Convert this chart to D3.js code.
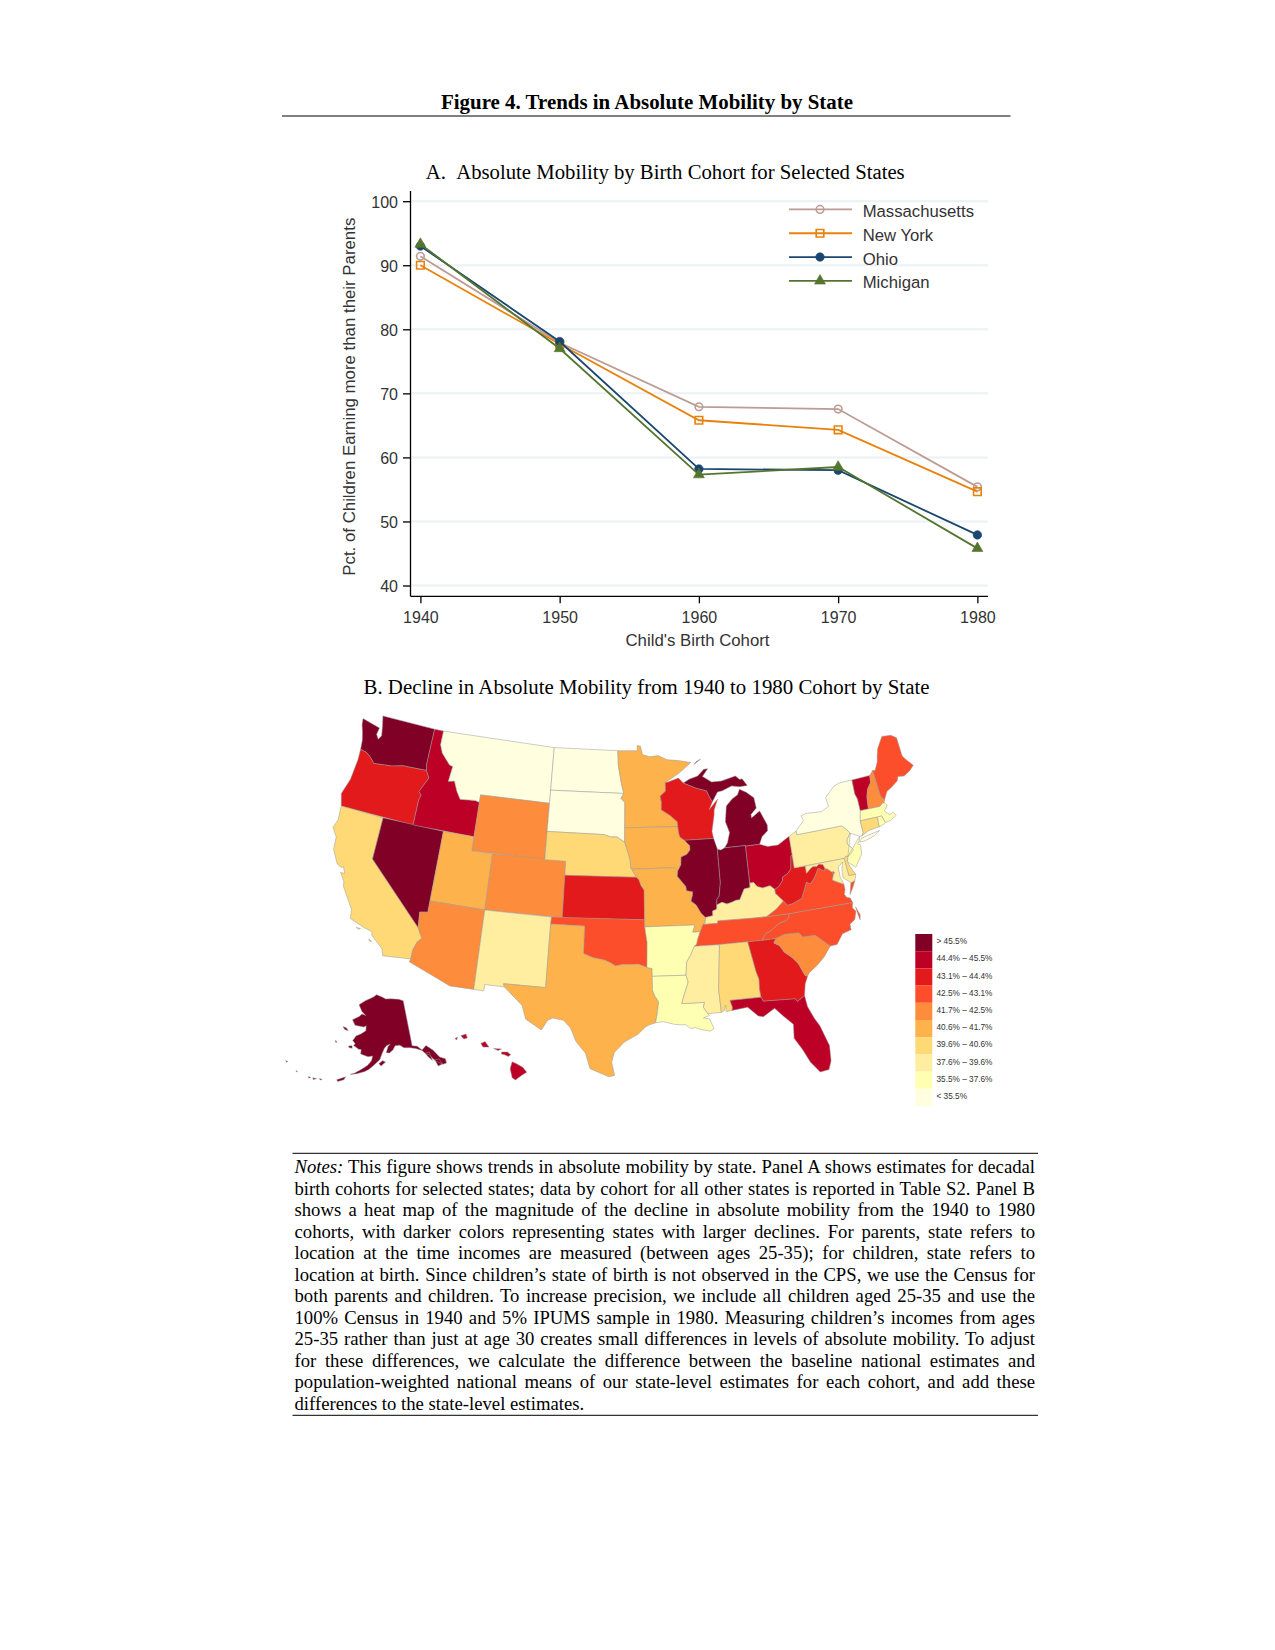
<!DOCTYPE html>
<html><head><meta charset="utf-8">
<script src="https://d3js.org/d3.v7.min.js"></script>
<style>html,body{margin:0;padding:0;background:#fff}svg{display:block}</style>
</head><body><svg id="c" width="1275" height="1650"></svg>
<script>
// ---------- Panel A data ----------
const cohorts = [1940,1950,1960,1970,1980];
const seriesNames = ["Massachusetts","New York","Ohio","Michigan"];
const massachusetts = [91.4,77.9,67.9,67.55,55.4];
const newYork = [90.0,77.7,65.8,64.3,54.65];
const ohio = [93.0,78.1,58.2,58.0,47.9];
const michigan = [93.3,77.0,57.3,58.5,45.8];
const yTicks = [40,50,60,70,80,90,100];

// ---------- Panel B data ----------
const legendLabels = ["> 45.5%","44.4% – 45.5%","43.1% – 44.4%","42.5% – 43.1%","41.7% – 42.5%","40.6% – 41.7%","39.6% – 40.6%","37.6% – 39.6%","35.5% – 37.6%","< 35.5%"];
const legendThresholds = [35.5,37.6,39.6,40.6,41.7,42.5,43.1,44.4,45.5];
const legendColors = ["#FFFFE0","#FFFFB2","#FFEDA0","#FED976","#FEB24C","#FD8D3C","#FC4E2A","#E31A1C","#BD0026","#800026"];
const stateCodes = ["WA","OR","CA","NV","ID","MT","WY","UT","AZ","CO","NM","ND","SD","NE","KS","OK","TX","MN","IA","MO","AR","LA","WI","IL","MI","IN","OH","KY","TN","MS","AL","GA","FL","SC","NC","VA","WV","PA","NY","VT","NH","ME","MA","CT","RI","NJ","DE","MD","DC","AK","HI"];
const stateDecline = [46,44,40,46,45,35,42,41,42,42,38.5,35,35,40,44,42.8,41,41,41,41,36.5,36.5,44,46,46,46,45,38.5,42.8,38.5,40,44,45,42,42.8,42.8,44,38.5,35,45,42,42.8,36.5,40,36.5,36.5,40,38.5,42.8,46,45];

// Shared state borders, as "lon,lat" (hand-estimated geography)
const rev = s => s.trim().split(/\s+/).reverse().join(" ");
const MN_WI="-92.29,46.66 -92.29,46.07 -92.87,45.7 -92.75,45.3 -92.8,44.75 -91.9,44.3 -91.25,43.85 -91.22,43.5";
const IA_WI="-91.22,43.5 -91.15,43 -91.06,42.75 -90.64,42.51";
const IA_IL="-90.64,42.51 -90.15,42.1 -90.16,41.8 -90.5,41.5 -91.05,41.35 -91.1,40.8 -91.42,40.38";
const MO_IL="-91.42,40.38 -91.5,40 -90.75,39.25 -90.7,38.95 -90.15,38.85 -90.18,38.63 -90.35,38.2 -89.9,37.9 -89.5,37.3 -89.13,36.98";
const MO_KY="-89.13,36.98 -89.2,36.6 -89.42,36.5";
const MO_TN="-89.42,36.5 -89.7,36";
const AR_TN="-89.7,36 -89.95,35.5 -90.08,35.13 -90.3,35";
const AR_MS="-90.3,35 -90.6,34.5 -91.05,33.9 -91.15,33";
const LA_MS="-91.15,33 -91,32.5 -91.4,31.6 -91.63,31 -89.73,31 -89.85,30.67 -89.53,30.18";
const IL_KY="-89.13,36.98 -88.47,37.07 -88.45,37.4 -88.07,37.5 -88.03,37.8";
const IL_IN="-88.03,37.8 -87.98,38.2 -87.75,38.4 -87.53,39.35 -87.53,41.71";
const IN_KY="-88.03,37.8 -87.55,37.95 -87.1,37.8 -86.6,37.9 -86.25,38 -85.9,38 -85.7,38.3 -85.4,38.73 -84.85,38.78 -84.82,39.1";
const OH_KY="-84.82,39.1 -84.45,39.1 -84.2,38.8 -83.7,38.65 -83,38.73 -82.6,38.42";
const OH_WV="-82.6,38.42 -82.2,38.6 -81.75,39 -81.75,39.2 -81.2,39.4 -80.85,39.7 -80.65,40.6 -80.52,40.64";
const KY_WV="-82.6,38.42 -82.6,38.15 -81.97,37.54";
const KY_VA="-81.97,37.54 -82.7,37.05 -83.68,36.6";
const KY_TN="-83.68,36.6 -85,36.62 -88.07,36.67 -88.07,36.5 -89.42,36.5";
const TN_VA="-83.68,36.6 -81.68,36.59";
const NC_VA="-81.68,36.59 -75.87,36.55";
const TN_NC="-81.68,36.59 -81.7,36.33 -82.03,36.12 -82.6,36.03 -83.1,35.77 -83.5,35.57 -84,35.4 -84.32,34.99";
const VA_WV="-81.97,37.54 -81.68,37.2 -81.2,37.25 -80.3,37.52 -80,38 -79.65,38.58 -79.3,38.42 -78.87,38.77 -78.35,39.4 -77.83,39.14 -77.72,39.32";
const MD_WV="-77.72,39.32 -77.83,39.6 -78.2,39.68 -78.45,39.55 -78.77,39.6 -79.05,39.48 -79.49,39.2 -79.48,39.72";
const MD_VA="-77.72,39.32 -77.46,39.2 -77.12,38.93 -77.04,38.79 -77.25,38.4 -76.95,38.25 -76.3,37.95";
const SAVANNAH="-83.11,35 -83.35,34.7 -82.9,34.47 -82.55,33.95 -81.95,33.5 -81.5,33 -81.1,32.1 -80.9,32.03";
const SC_NC="-83.11,35 -82.3,35.2 -81.05,35.15 -80.78,34.82 -79.68,34.8 -78.55,33.86";
const RED="-94.48,33.64 -95.2,33.87 -96,33.85 -96.6,33.85 -97.2,33.75 -97.6,33.95 -98.1,34.13 -99.2,34.3 -100,34.56";
const SABINE="-94.04,33 -94.04,32 -93.85,31.6 -93.55,31.2 -93.7,30.3 -93.85,29.7";
const WI_MI="-90.42,46.57 -89.1,46.14 -88.1,45.9 -87.8,45.35 -87.6,45.1";
const MN_W="-97.23,49 -97.15,47.9 -96.8,46.6 -96.56,45.94";
const SD_MN="-96.56,45.94 -96.85,45.6 -96.45,45.3 -96.45,43.5";
const NE_SD="-104.05,43 -98.5,43 -97.85,42.85 -97.2,42.85 -96.7,42.6 -96.45,42.49";
const ID_MT="-116.05,49 -116.05,48 -115.7,47.45 -114.7,46.7 -114.35,46.65 -114.5,45.55 -113.9,45.65 -113.45,44.95 -113,44.45 -111.5,44.55 -111.05,44.47";
const OR_ID="-117.03,42 -117.03,43.8 -116.9,44.2 -117.2,44.4 -116.5,45.5 -116.92,45.99";
const WA_OR="-116.92,45.99 -119,45.93 -119.3,45.93 -120.5,45.7 -121.2,45.65 -122.3,45.55 -122.8,45.9 -123.3,46.15 -124,46.25";
const COLO_R="-114.63,35 -114.13,34.3 -114.45,34 -114.7,33.4 -114.72,32.72";
const NJ_PA="-74.7,41.36 -75.13,40.97 -75.2,40.65 -74.75,40.2 -75.13,39.9 -75.41,39.8";
const NY_PA="-79.76,42.27 -79.76,42 -75.35,42 -75.05,41.75 -74.7,41.36";
const NH_VT="-71.5,45.01 -71.6,44.5 -72.05,44.1 -72.3,43.6 -72.46,42.73";

const stateRings = [
 [`-124.7,48.4 -123.1,48.15 -122.75,48.1 -122.85,47.6 -122.55,47.3 -122.3,47.6 -122.5,48.3 -122.75,49 -117.03,49 -117.04,46.42 ${WA_OR} -124.1,46.9 -124.35,47.5 -124.6,47.95`],
 [`${rev(WA_OR)} ${rev(OR_ID)} -124.2,42 -124.55,42.85 -124.1,44 -123.95,45.5`],
 [`-124.2,42 -120,42 -120,39 ${COLO_R} -117.12,32.53 -117.3,33 -118.4,33.75 -118.5,34.03 -119.2,34.15 -120.6,34.55 -120.65,35.15 -121.9,36.6 -122,36.95 -122.5,37.5 -122.1,37.5 -122.4,37.95 -122.55,37.85 -123,38 -123.7,38.9 -123.8,39.8 -124.35,40.4 -124.1,41`,
  `-119.9,34.05 -119.5,34.03 -119.7,33.95`,`-118.6,33.45 -118.3,33.35 -118.45,33.3`],
 [`-120,42 -114.04,42 -114.04,36.2 -114.75,36.1 -114.63,35 -120,39`],
 [`-117.03,49 ${ID_MT} -111.05,42 ${OR_ID} -117.04,46.42`],
 [`${ID_MT} -111.05,45 -104.05,45 -104.05,49`],
 [`-111.05,45 -104.05,45 -104.05,41 -111.05,41`],
 [`-114.04,42 -111.05,42 -111.05,41 -109.05,41 -109.05,37 -114.05,37`],
 [`-114.05,37 -109.05,37 -109.05,31.33 -111.07,31.33 -114.8,32.5 ${rev(COLO_R)} -114.75,36.1 -114.04,36.2`],
 [`-109.05,41 -102.05,41 -102.04,37 -109.05,37`],
 [`-109.05,37 -103,37 -103.04,36.5 -103.06,32 -106.62,32 -106.53,31.78 -108.2,31.78 -108.2,31.33 -109.05,31.33`],
 [`-104.05,49 ${MN_W} -104.05,45.94`],
 [`-104.05,45.94 ${SD_MN} -96.45,42.49 ${rev(NE_SD)}`],
 [`${NE_SD} -96.1,41.7 -95.92,41.2 -95.85,40.65 -95.77,40.58 -95.31,40 -102.05,40 -102.05,41 -104.05,41`],
 [`-102.05,40 -95.31,40 -95.1,39.85 -94.9,39.4 -94.62,39.1 -94.62,37 -102.04,37`],
 [`-103,37 -94.62,37 -94.62,36.5 -94.43,35.4 ${RED} -100,36.5 -103.04,36.5`],
 [`-106.62,32 -103.06,32 -103.04,36.5 -100,36.5 ${rev(RED)} -94.04,33.55 ${SABINE} -94.4,29.55 -94.7,29.4 -95.3,28.9 -96.4,28.35 -97.2,27.6 -97.4,26.9 -97.15,25.96 -97.6,25.85 -99.1,26.4 -99.5,27.5 -100.3,28.3 -100.8,29.25 -101.4,29.77 -102.3,29.88 -102.7,29.7 -103.15,28.98 -104.5,29.65 -104.9,30.6 -106,31.4 -106.53,31.78`],
 [`-97.23,49 -95.15,49 -95.15,49.38 -94.8,49.33 -94.6,48.72 -93.8,48.55 -92.95,48.62 -92,48.3 -90.8,48.2 -89.5,48 -90.8,47.3 -92.1,46.75 ${MN_WI} -96.45,43.5 ${rev(SD_MN)} ${rev(MN_W)}`],
 [`-96.45,43.5 -91.22,43.5 ${IA_WI} ${IA_IL} -91.73,40.61 -95.77,40.58 -95.85,40.65 -95.92,41.2 -96.1,41.7 -96.45,42.49`],
 [`-95.77,40.58 -91.73,40.61 ${MO_IL} ${MO_KY} ${MO_TN} -90.37,36 -90.15,36.5 -94.62,36.5 -94.62,39.1 -94.9,39.4 -95.1,39.85 -95.31,40`],
 [`-94.62,36.5 -90.15,36.5 -90.37,36 ${AR_TN} ${AR_MS} -94.04,33 -94.04,33.55 -94.48,33.64 -94.43,35.4`],
 [`${SABINE} -93.2,29.77 -92.3,29.55 -91.8,29.5 -91.4,29.5 -91,29.2 -90.6,29.25 -90.2,29.1 -89.4,28.93 -89.1,29.1 -89.4,29.8 -89.9,29.9 -89.4,30.05 ${rev(LA_MS)}`],
 [`-92.29,46.66 -92,46.7 -90.9,46.95 -90.42,46.57 ${WI_MI} -88,44.55 -87.05,45.25 -87.5,44.5 -87.55,44.15 -87.9,43 -87.8,42.49 -90.64,42.51 ${rev(IA_WI)} ${rev(MN_WI)}`],
 [`-90.64,42.51 -87.8,42.49 -87.52,41.71 ${rev(IL_IN)} ${rev(IL_KY)} ${rev(MO_IL)} ${rev(IA_IL)}`],
 [`-86.82,41.76 -86.5,42.1 -86.2,42.8 -86.5,43.6 -86.25,44.7 -85.6,45.15 -85,45.4 -84.75,45.78 -84.1,45.5 -83.4,45.05 -83.3,44.3 -83.9,43.9 -83.9,43.65 -83,44.07 -82.45,43 -82.5,42.6 -83.1,42.25 -83.45,41.73 -84.81,41.72 -84.81,41.76`,
  `${WI_MI} -87,45.75 -86.5,45.8 -85.5,46.08 -84.7,45.95 -83.9,45.98 -84.1,46.2 -84.35,46.5 -84.6,46.47 -85,46.75 -86.5,46.5 -87.5,46.5 -88.4,46.95 -87.8,47.47 -88.2,47.45 -88.9,47 -89.8,46.82`,
  `-89.2,47.85 -88.45,48.2 -88.9,48.05`],
 [`-87.53,41.71 -87.2,41.64 -86.82,41.76 -84.81,41.76 -84.82,39.1 ${rev(IN_KY)} ${IL_IN}`],
 [`-84.81,41.72 -83.45,41.73 -82.7,41.5 -81.7,41.5 -80.52,41.98 -80.52,40.64 ${rev(OH_WV)} ${rev(OH_KY)}`],
 [`-89.13,36.98 ${IL_KY} ${IN_KY} ${OH_KY} ${KY_WV} ${KY_VA} ${KY_TN} ${rev(MO_KY)}`],
 [`-83.68,36.6 ${TN_VA} ${TN_NC} -85.6,35 -88.2,35 ${rev(AR_TN)} ${rev(MO_TN)} ${rev(KY_TN)}`],
 [`-90.3,35 -88.2,35 -88.1,34.9 -88.47,31.9 -88.4,30.2 ${rev(LA_MS)} ${rev(AR_MS)}`],
 [`-88.2,35 -85.6,35 -85.18,32.87 -85,32.3 -85.05,31.55 -85,31 -87.6,31 -87.45,30.5 -87.5,30.28 -88,30.23 -88,30.7 -88.15,30.3 -88.4,30.2 -88.47,31.9 -88.1,34.9`],
 [`-85.6,35 -84.32,34.99 ${SAVANNAH} -81.2,31.5 -81.4,30.7 -82.05,30.36 -82.2,30.57 -84.86,30.7 -85,31 -85.05,31.55 -85,32.3 -85.18,32.87`],
 [`-87.6,31 -85,31 -84.86,30.7 -82.2,30.57 -82.05,30.36 -81.4,30.7 -81.3,29.9 -80.9,29 -80.55,28.4 -80.05,26.9 -80.13,25.8 -80.4,25.2 -81.1,25.13 -81.75,25.95 -82.2,26.9 -82.75,27.8 -82.65,28.8 -83.4,29.5 -84,30.1 -85,29.6 -85.4,29.7 -86.2,30.4 -87.5,30.28 -87.45,30.5`],
 [`${SC_NC} -79.2,33.2 -79.9,32.7 -80.7,32.25 ${rev(SAVANNAH)}`],
 [`-84.32,34.99 ${SC_NC} -77.95,33.87 -77.3,34.55 -76.5,34.7 -76.5,35.1 -76,35.35 -75.75,35.9 -76,36.2 -75.87,36.55 ${rev(NC_VA)} ${TN_NC}`,
  `-75.55,35.25 -75.45,35.6 -75.7,36.2 -75.62,35.6`],
 [`-83.68,36.6 ${TN_VA} ${NC_VA} -76,36.9 -76.3,37 -76.45,37.25 -76.3,37.55 ${rev(MD_VA)} ${rev(VA_WV)} ${KY_VA}`,
  `-75.95,37.15 -75.6,37.55 -75.25,38.03 -75.65,37.95`],
 [`${OH_WV} -80.52,39.72 -79.48,39.72 -79.49,39.2 -79.05,39.48 -78.77,39.6 -78.45,39.55 -78.2,39.68 -77.83,39.6 ${rev(VA_WV)} ${rev(KY_WV)}`],
 [`-80.52,41.98 -79.76,42.27 -79.76,42 -75.35,42 -75.05,41.75 ${NJ_PA} -75.6,39.84 -75.79,39.72 -80.52,39.72`],
 [`${NY_PA} -73.9,41 -73.66,41 -73.49,41.2 -73.5,42.05 -73.26,42.75 -73.25,43.6 -73.4,44 -73.34,45.01 -74.7,45 -75.3,44.85 -76.3,44.2 -76.2,43.55 -77,43.28 -78.5,43.37 -79.05,43.27 -78.9,42.9`,
  `-74.03,40.6 -73.75,40.85 -72.6,40.98 -71.9,41.07 -72.5,40.8 -73.5,40.6`],
 [`-73.34,45.01 ${NH_VT} -73.26,42.75 -73.25,43.6 -73.4,44`],
 [`${NH_VT} -71.3,42.7 -71,42.87 -70.82,42.87 -70.7,43.07 -70.98,43.4 -71.08,45.3`],
 [`-71.08,45.3 -70.85,45.25 -70.4,45.8 -70.25,46.2 -70,46.7 -69.23,47.46 -68.3,47.36 -67.8,47.07 -67.8,45.7 -67.45,45.3 -67,44.85 -67.5,44.55 -68.2,44.3 -68.8,44.4 -69,44.1 -69.8,43.75 -70.25,43.6 -70.7,43.07 -70.98,43.4`],
 [`-73.5,42.05 -73.26,42.75 -72.46,42.73 -71.3,42.7 -71,42.87 -70.82,42.87 -70.6,42.65 -71,42.3 -70.6,41.95 -70.25,42.07 -70,41.8 -70.65,41.55 -71.2,41.5 -71.38,42.02 -71.8,42.02`],
 [`-73.66,41 -73.49,41.2 -73.5,42.05 -71.8,42.02 -71.86,41.32 -72.9,41.25`],
 [`-71.8,42.02 -71.38,42.02 -71.2,41.5 -71.5,41.37 -71.86,41.32`],
 [`${rev(NJ_PA)} -75.55,39.45 -74.9,38.93 -74.1,39.75 -74,40.4 -74.25,40.5 -74.03,40.7 -73.9,41`],
 [`-75.79,39.72 -75.6,39.84 -75.41,39.8 -75.55,39.45 -75.4,39.05 -75.05,38.45 -75.7,38.46`],
 [`-79.48,39.72 -75.79,39.72 -75.7,38.46 -75.05,38.45 -75.25,38.03 -75.65,37.95 -76.25,38.4 -76.2,39 -76,39.5 -76.5,39.2 -76.5,38.5 -76.3,37.95 ${rev(MD_VA)} ${MD_WV}`],
 [`-77.12,38.93 -77.04,38.99 -76.91,38.89 -77.04,38.79`],
 [`-141,69.65 -143.5,70.1 -148,70.4 -151,70.45 -153.5,70.9 -156.6,71.35 -158.5,70.8 -160,70.5 -163,69.9 -166.2,68.85 -164,67.6 -161.8,66.9 -163.8,67.1 -165,66.5 -168,65.6 -166.3,64.6 -162,64.5 -161,64.8 -160.9,63.8 -163,63.05 -165,62.5 -165.8,61.7 -166.1,61.5 -164.8,60.9 -165.3,60.5 -163,59.9 -162,59.9 -162,59 -159,58.6 -157.2,58.8 -157.6,57.8 -159,56.8 -161,55.95 -163.3,55 -164.8,54.6 -162.5,54.95 -160,55.5 -158.4,56 -156.5,57 -154.4,58.1 -153.5,59.3 -152.5,60.4 -151.6,60.9 -150,61.2 -151,60.7 -151.8,59.5 -150.5,59.4 -149,60 -148,60.8 -146,60.8 -144.5,60.2 -142,60 -139.8,59.6 -137.5,58.9 -136.5,58.1 -135.3,57.7 -134.5,56.9 -133.5,56 -131.5,55 -130.2,55 -130,55.9 -131.8,56.6 -133.4,58.4 -135.5,59.7 -137.5,59 -139,60 -141,60.3`,
  `-154.7,57.3 -153.3,57.9 -152.2,57.6 -153.9,56.8`,
  `-171.7,63.8 -170,63.7 -168.8,63.2 -170.5,63.3`,
  `-167.4,60.2 -166,60.4 -165.7,59.9 -166.9,59.9`,
  `-173.1,60.7 -172.3,60.4 -172.9,60.3`,
  `-136.6,58.2 -135,58.25 -134.7,56.4 -135.8,57.3`,
  `-133.8,56.4 -132.2,56.3 -131.7,55.1 -133.3,55`,
  `-169,53 -166.2,53.95 -166.6,53.3 -168.5,52.7`,
  `-174.6,52.3 -173.7,52.3 -174.3,52.05`,
  `-176.8,52 -175.5,52.1 -176.5,51.7`,
  `-178.2,51.95 -177.5,51.9 -178,51.65`,
  `177.2,52.1 177.8,52 177.4,51.9`,
  `172.6,52.95 173.4,52.95 173.1,52.75`],
 [`-155.9,20.25 -155.6,20.12 -155.1,19.85 -154.8,19.5 -155.2,19.27 -155.65,18.95 -155.9,19.1 -156.05,19.75`,
  `-156.7,20.95 -156.25,20.95 -156,20.75 -156.2,20.63 -156.45,20.75 -156.7,20.8`,
  `-158.27,21.55 -157.95,21.7 -157.65,21.3 -158.1,21.3`,
  `-159.8,22.1 -159.4,22.23 -159.3,21.95 -159.55,21.87`,
  `-160.25,21.9 -160.05,22 -160.1,21.8`,
  `-157.3,21.2 -156.7,21.17 -156.95,21.05`]
];

const notesLines = [
 "This figure shows trends in absolute mobility by state. Panel A shows estimates for decadal",
 "birth cohorts for selected states; data by cohort for all other states is reported in Table S2. Panel B",
 "shows a heat map of the magnitude of the decline in absolute mobility from the 1940 to 1980",
 "cohorts, with darker colors representing states with larger declines. For parents, state refers to",
 "location at the time incomes are measured (between ages 25-35); for children, state refers to",
 "location at birth. Since children’s state of birth is not observed in the CPS, we use the Census for",
 "both parents and children. To increase precision, we include all children aged 25-35 and use the",
 "100% Census in 1940 and 5% IPUMS sample in 1980. Measuring children’s incomes from ages",
 "25-35 rather than just at age 30 creates small differences in levels of absolute mobility. To adjust",
 "for these differences, we calculate the difference between the baseline national estimates and",
 "population-weighted national means of our state-level estimates for each cohort, and add these",
 "differences to the state-level estimates."
];

// ---------- drawing ----------
const svg = d3.select("#c");
const SERIF = "'Liberation Serif','Times New Roman',serif";
const SANS = "'Liberation Sans',Arial,sans-serif";
const INK = "#333";
const txt = (x,y,s,size,fam,anchor,len) => {
  const t = svg.append("text").attr("x",x).attr("y",y).attr("font-size",size).attr("font-family",fam)
    .attr("text-anchor",anchor||"start").attr("fill","#000").text(s);
  if(len) t.attr("textLength",len).attr("lengthAdjust","spacingAndGlyphs");
  return t;
};
txt(647,109,"Figure 4. Trends in Absolute Mobility by State",20,SERIF,"middle",412).attr("font-weight","bold");
svg.append("line").attr("x1",282).attr("x2",1010.5).attr("y1",116).attr("y2",116).attr("stroke","#000").attr("stroke-width",1);
txt(425.7,178.5,"A.\u00A0\u00A0Absolute Mobility by Birth Cohort for Selected States",20,SERIF,"start",479);
txt(363.5,693.5,"B. Decline in Absolute Mobility from 1940 to 1980 Cohort by State",20,SERIF,"start",566);

// Panel A
const x = d3.scaleLinear().domain([1940,1980]).range([420.4,977.4]);
const y = d3.scaleLinear().domain([40,100]).range([585.5,201.2]);
const axisLeftPos = 410.5, axisBottomPos = 596.3, plotRight = 988, plotTop = 191;
svg.append("g").selectAll("line").data(yTicks).join("line")
  .attr("x1",axisLeftPos).attr("x2",plotRight).attr("y1",d=>y(d)).attr("y2",d=>y(d))
  .attr("stroke","#EAF2F3").attr("stroke-width",2);
const gy = svg.append("g").attr("transform",`translate(${axisLeftPos},0)`)
  .call(d3.axisLeft(y).tickValues(yTicks).tickSizeInner(7.5).tickSizeOuter(0).tickPadding(5));
const gx = svg.append("g").attr("transform",`translate(0,${axisBottomPos})`)
  .call(d3.axisBottom(x).tickValues(cohorts).tickFormat(d3.format("d")).tickSizeInner(7).tickSizeOuter(0).tickPadding(8.6));
gy.selectAll("text").attr("dy","0.4em");
[gx,gy].forEach(g=>{g.select(".domain").remove();
  g.selectAll("text").attr("font-size",16).attr("font-family",SANS).attr("fill",INK);
  g.selectAll("line").attr("stroke","#000").attr("stroke-width",1.3);});
svg.append("line").attr("x1",axisLeftPos).attr("x2",axisLeftPos).attr("y1",plotTop).attr("y2",axisBottomPos).attr("stroke","#000").attr("stroke-width",1.3);
svg.append("line").attr("x1",axisLeftPos).attr("x2",plotRight).attr("y1",axisBottomPos).attr("y2",axisBottomPos).attr("stroke","#000").attr("stroke-width",1.3);
txt(697.5,645.5,"Child's Birth Cohort",16,SANS,"middle",144).attr("fill",INK);
txt(0,0,"Pct. of Children Earning more than their Parents",16,SANS,"middle",358).attr("fill",INK)
  .attr("x",null).attr("y",null).attr("transform","translate(354.5,396.7) rotate(-90)");

const lineGen = d3.line().x((d,i)=>x(cohorts[i])).y(d=>y(d));
const seriesStyles = [
 {v:massachusetts,c:"#BC9C94",sym:d3.symbolCircle,size:46,hollow:true},
 {v:newYork,c:"#E8820C",sym:d3.symbolSquare,size:58,hollow:true},
 {v:ohio,c:"#1A476F",sym:d3.symbolCircle,size:57,hollow:false},
 {v:michigan,c:"#55752F",sym:d3.symbolTriangle,size:52,hollow:false}
];
const marker = (g,s,px,py)=>g.append("path").attr("d",d3.symbol().type(s.sym).size(s.size)())
  .attr("transform",`translate(${px},${py})`)
  .attr("fill",s.hollow?"none":s.c).attr("stroke",s.c).attr("stroke-width",s.hollow?1.6:0.6);
seriesStyles.forEach(s=>{
  const g = svg.append("g");
  g.append("path").attr("d",lineGen(s.v)).attr("fill","none").attr("stroke",s.c).attr("stroke-width",1.8);
  s.v.forEach((d,i)=>marker(g,s,x(cohorts[i]),y(d)));
});
const legendYs = d3.scaleLinear().domain([0,3]).range([209.4,280.9]);
seriesStyles.forEach((s,i)=>{
  const g = svg.append("g"), ly = legendYs(i);
  g.append("line").attr("x1",789).attr("x2",852).attr("y1",ly).attr("y2",ly).attr("stroke",s.c).attr("stroke-width",1.8);
  marker(g,s,820,ly);
  txt(862.7,ly+7.5,seriesNames[i],16.7,SANS,"start").attr("fill",INK);
});

// Panel B
const fill = d3.scaleThreshold().domain(legendThresholds).range(legendColors);
const parseRing = s => {
  const r = s.trim().split(/\s+/).map(p=>p.split(",").map(Number));
  r.push(r[0].slice());
  return d3.geoArea({type:"Polygon",coordinates:[r]})>2*Math.PI ? r.reverse() : r;
};
const projection = d3.geoAlbersUsa().scale(805).translate([622.8,895.8]);
const geoPath = d3.geoPath(projection);
svg.append("g").selectAll("path").data(stateRings).join("path")
  .attr("d",rings=>geoPath({type:"MultiPolygon",coordinates:rings.map(s=>[parseRing(s)])}))
  .attr("fill",(d,i)=>fill(stateDecline[i])).attr("stroke","#999").attr("stroke-width",0.5).attr("stroke-linejoin","round")
  .attr("data-state",(d,i)=>stateCodes[i]);

const swatchY = d3.scaleBand().domain(d3.range(legendLabels.length)).range([934,1106]);
const lg = svg.append("g");
lg.selectAll("rect").data(legendLabels).join("rect")
  .attr("x",915.3).attr("width",17).attr("y",(d,i)=>swatchY(i)).attr("height",swatchY.bandwidth())
  .attr("fill",(d,i)=>legendColors[legendColors.length-1-i]);
lg.selectAll("text").data(legendLabels).join("text")
  .attr("x",936.5).attr("y",(d,i)=>swatchY(i)+swatchY.bandwidth()/2+1.5)
  .attr("font-size",8.25).attr("font-family",SANS).attr("fill",INK).text(d=>d);

// Notes
svg.append("line").attr("x1",292.5).attr("x2",1038).attr("y1",1153.3).attr("y2",1153.3).attr("stroke","#000");
svg.append("line").attr("x1",292.5).attr("x2",1038).attr("y1",1415.3).attr("y2",1415.3).attr("stroke","#000");
const noteY = d3.scaleLinear().domain([0,11]).range([1173.3,1410]);
notesLines.forEach((line,i)=>{
  const t = svg.append("text").attr("x",294.5).attr("y",noteY(i)).attr("font-size",18.7).attr("font-family",SERIF).attr("fill","#000");
  if(i===0){ t.append("tspan").attr("font-style","italic").text("Notes:"); t.append("tspan").text(" "+line); }
  else t.text(line);
  if(i<notesLines.length-1){
    const gaps = (t.text().match(/ /g)||[]).length;
    t.attr("word-spacing",(740.5-t.node().getComputedTextLength())/gaps);
  }
});
</script></body></html>
